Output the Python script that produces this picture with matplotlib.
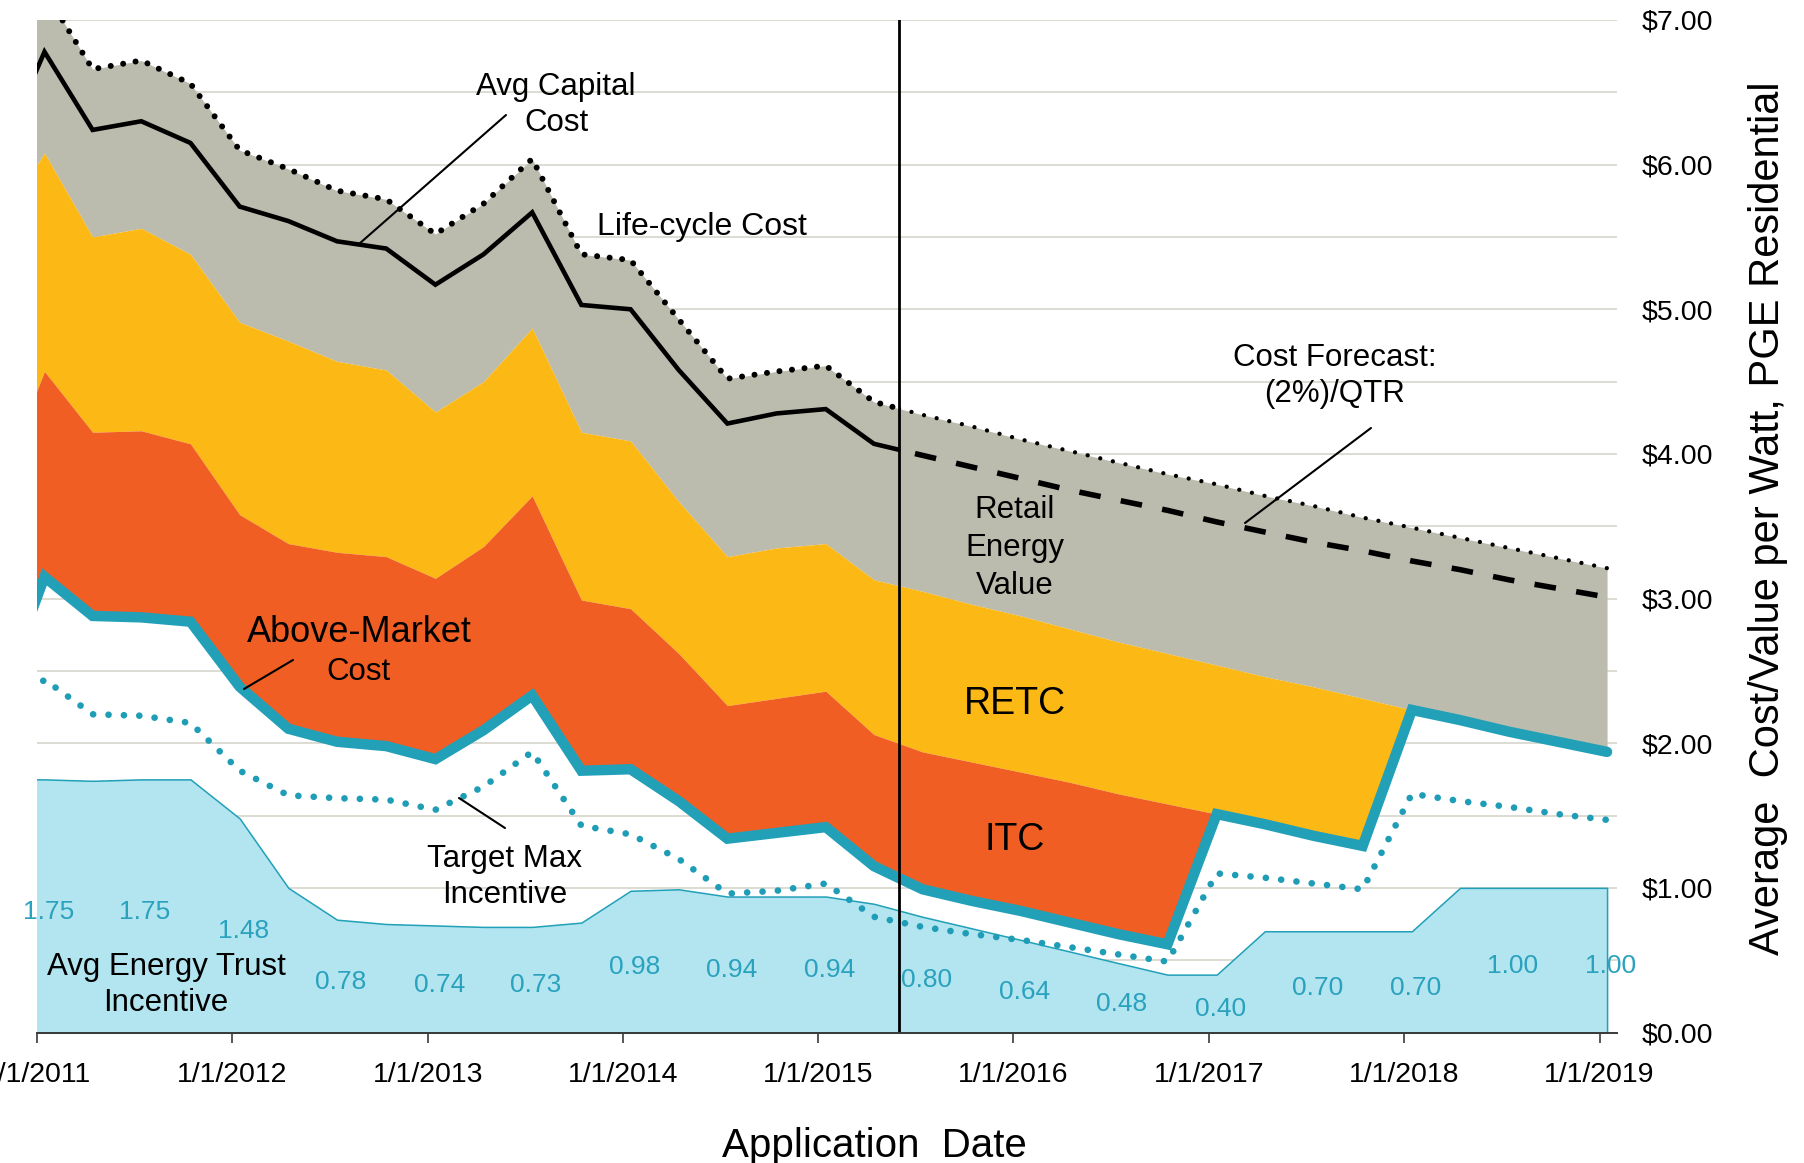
import numpy as np
import pandas as pd
import matplotlib
matplotlib.use("Agg")
import matplotlib.pyplot as plt
import matplotlib.dates as mdates
from matplotlib.patches import Rectangle
from datetime import datetime

plt.rcParams['font.family'] = ['Liberation Sans', 'DejaVu Sans']

# ---------------- data ----------------
# quarterly application dates (15th of Jan/Apr/Jul/Oct), Oct 2010 .. Jan 2019
dates = pd.date_range("2010-10-01", "2019-01-01", freq="QS") + pd.Timedelta(days=14)

life_cycle_cost = [6.45, 7.20, 6.66, 6.72, 6.56, 6.10, 5.97, 5.82, 5.76, 5.52, 5.73,
                   6.04, 5.38, 5.34, 4.93, 4.52, 4.57, 4.61, 4.36, 4.27, 4.19, 4.10,
                   4.02, 3.94, 3.86, 3.79, 3.71, 3.64, 3.56, 3.49, 3.42, 3.35, 3.28, 3.21]
capital_actual = [5.99, 6.78, 6.24, 6.30, 6.15, 5.71, 5.61, 5.47, 5.42, 5.17, 5.38,
                  5.67, 5.03, 5.00, 4.58, 4.21, 4.28, 4.31, 4.07]
capital_forecast = [4.07, 3.99, 3.91, 3.83, 3.75, 3.68, 3.61, 3.53, 3.46, 3.39, 3.33,
                    3.26, 3.20, 3.13, 3.07, 3.01]
retc_top = [5.55, 6.08, 5.50, 5.56, 5.38, 4.91, 4.78, 4.64, 4.58, 4.29, 4.50,
            4.87, 4.15, 4.09, 3.67, 3.29, 3.35, 3.38, 3.13, 3.05, 2.96, 2.88,
            2.79, 2.70, 2.62, 2.54, 2.46, 2.39, 2.31, 2.23, 2.16, 2.08, 2.01, 1.94]
itc_top = [3.72, 4.57, 4.15, 4.16, 4.07, 3.58, 3.38, 3.32, 3.29, 3.14, 3.36,
           3.71, 2.99, 2.93, 2.62, 2.26, 2.31, 2.36, 2.06, 1.94, 1.87, 1.80,
           1.73, 1.65, 1.58, 1.51, 1.44, 1.36, 1.29, 2.23, 2.16, 2.08, 2.01, 1.94]
above_market = [2.23, 3.15, 2.88, 2.87, 2.84, 2.39, 2.10, 2.01, 1.98, 1.89, 2.09,
                2.33, 1.81, 1.82, 1.60, 1.34, 1.38, 1.42, 1.15, 0.99, 0.91, 0.84,
                0.76, 0.68, 0.61, 1.51, 1.44, 1.36, 1.29, 2.23, 2.16, 2.08, 2.01, 1.94]
target_max = [2.11, 2.44, 2.20, 2.19, 2.14, 1.81, 1.64, 1.62, 1.61, 1.54, 1.70,
              1.94, 1.43, 1.37, 1.20, 0.96, 0.98, 1.03, 0.80, 0.73, 0.68, 0.64,
              0.59, 0.54, 0.49, 1.10, 1.07, 1.03, 0.99, 1.65, 1.60, 1.56, 1.51, 1.47]
ets_incentive = [1.75, 1.75, 1.74, 1.75, 1.75, 1.48, 1.00, 0.78, 0.75, 0.74, 0.73,
                 0.73, 0.76, 0.98, 0.99, 0.94, 0.94, 0.94, 0.89, 0.80, 0.72, 0.64,
                 0.56, 0.48, 0.40, 0.40, 0.70, 0.70, 0.70, 0.70, 1.00, 1.00, 1.00, 1.00]

forecast_start = datetime(2015, 5, 31)
x_start, x_end = datetime(2011, 1, 1), datetime(2019, 2, 2)
year_ticks = [datetime(y, 1, 1) for y in range(2011, 2020)]
year_tick_labels = ["1/1/2011", "1/1/2012", "1/1/2013", "1/1/2014", "1/1/2015",
                    "1/1/2016", "1/1/2017", "1/1/2018", "1/1/2019"]
y_ticks = [0, 1, 2, 3, 4, 5, 6, 7]
y_tick_labels = ["$0.00", "$1.00", "$2.00", "$3.00", "$4.00", "$5.00", "$6.00", "$7.00"]

# ---------------- styling ----------------
W, H = 1804, 1163
C_GRAY = '#bbbcad'
C_YELLOW = '#fcb814'
C_ORANGE = '#f15e24'
C_LIGHTBLUE = '#b2e5f0'
C_TEAL = '#21a0b8'
C_TEAL_DOT = '#1f9db7'
C_LABEL = '#2aa2be'

fig = plt.figure(figsize=(W / 100, H / 100), dpi=100)
ax = fig.add_axes([37 / W, 1 - 1032.5 / H, (1616.7 - 37) / W, (1032.5 - 20) / H])

capital_all = capital_actual + capital_forecast[1:]
n_act = len(capital_actual)

ax.fill_between(dates, retc_top, life_cycle_cost, color=C_GRAY, lw=0, zorder=1)
ax.fill_between(dates, itc_top, retc_top, color=C_YELLOW, lw=0, zorder=1)
ax.fill_between(dates, above_market, itc_top, color=C_ORANGE, lw=0, zorder=1)
ax.fill_between(dates, 0, ets_incentive, facecolor=C_LIGHTBLUE, edgecolor=C_TEAL,
                lw=1.1, zorder=2)

xv = mdates.date2num(forecast_start)
x0n = mdates.date2num(x_start)
x1n = mdates.date2num(x_end)

def clip_rect(left=True):
    if left:
        return Rectangle((x0n, 0), xv - x0n, 7, transform=ax.transData)
    return Rectangle((xv, 0), x1n - xv, 7, transform=ax.transData)

# target max incentive (dotted teal)
ax.plot(dates, target_max, color=C_TEAL_DOT, lw=4.8, linestyle=(0, (0.01, 2.3)),
        dash_capstyle='round', zorder=3)

# above-market cost (thick teal)
ax.plot(dates, above_market, color=C_TEAL, lw=7.5, solid_joinstyle='miter',
        solid_capstyle='round', zorder=4)

# capital cost: solid actual, dashed forecast
l1, = ax.plot(dates, capital_all, color='black', lw=3.3, solid_joinstyle='miter', zorder=4)
l1.set_clip_path(clip_rect(True))
l2, = ax.plot(dates[n_act - 1:], capital_forecast, color='black', lw=4.0,
              linestyle=(0, (3.9, 3.7)), dash_capstyle='butt', zorder=4)
l2.set_clip_path(clip_rect(False))

# life-cycle cost: dotted
l3, = ax.plot(dates[:n_act + 1], life_cycle_cost[:n_act + 1], color='black', lw=4.3,
              linestyle=(0, (0.01, 2.1)), dash_capstyle='round', zorder=4)
l3.set_clip_path(clip_rect(True))
l4, = ax.plot(dates[n_act - 1:], life_cycle_cost[n_act - 1:], color='black', lw=3.1,
              linestyle=(0, (0.01, 3.0)), dash_capstyle='round', zorder=4)
l4.set_clip_path(clip_rect(False))

ax.axvline(forecast_start, color='black', lw=2.0, zorder=5)

# data labels of Energy Trust incentive (every other quarter)
for d, v in zip(dates[1::2], ets_incentive[1::2]):
    ax.text(d + pd.Timedelta(days=7), v / 2 - 0.04, f"{v:.2f}", color=C_LABEL,
            fontsize=19, ha='center', va='center', zorder=6)

# axes formatting
ax.set_xlim(x_start, x_end)
ax.set_ylim(0, 7)
ax.set_xticks(year_ticks)
ax.set_xticklabels(year_tick_labels, fontsize=20.5)
ax.yaxis.tick_right()
ax.set_yticks(y_ticks)
ax.set_yticklabels(y_tick_labels, fontsize=20.5)
ax.set_yticks(np.arange(0.5, 7, 1.0), minor=True)
ax.tick_params(axis='y', which='both', length=0, pad=18)
ax.tick_params(axis='x', length=7, width=1.2, color='#3a3a3a', pad=14, direction='out')
ax.grid(axis='y', which='both', color='#d6d6cc', lw=1.2, zorder=0)
ax.set_axisbelow(True)
for s in ['top', 'left', 'right']:
    ax.spines[s].set_visible(False)
ax.spines['bottom'].set_color('#3a3a3a')
ax.spines['bottom'].set_linewidth(1.4)
ax.spines['bottom'].set_zorder(6)

# ---------------- annotations ----------------
def fxy(px, py):
    return (px / W, 1 - py / H)

def note(txt, px, py, size=22.5, spacing=1.28):
    fig.text(*fxy(px, py), txt, fontsize=size, ha='center', va='center',
             multialignment='center', linespacing=spacing)

def leader(p0, p1):
    ax.annotate('', xy=fxy(*p1), xytext=fxy(*p0), xycoords='figure fraction',
                textcoords='figure fraction',
                arrowprops=dict(arrowstyle='-', color='black', lw=1.5, shrinkA=0, shrinkB=0),
                zorder=7)

note("Avg Capital\nCost", 556, 105)
leader((506, 115), (359, 244))
note("Life-cycle Cost", 702, 227, size=23)
note("Cost Forecast:\n(2%)/QTR", 1335, 376)
leader((1371, 428), (1245, 523))
note("Retail\nEnergy\nValue", 1015, 548, spacing=1.35)
note("RETC", 1015, 704, size=27)
note("ITC", 1015, 840, size=27)
note("Above-Market", 359, 632, size=26)
note("Cost", 359, 672)
leader((293, 660), (244, 689))
note("Target Max\nIncentive", 505, 877)
leader((505, 828), (459, 798))
note("Avg Energy Trust\nIncentive", 166, 985)

fig.text(*fxy(874, 1157), "Application  Date", fontsize=29, ha='center', va='baseline')
fig.text(*fxy(1768, 518), "Average  Cost/Value per Watt, PGE Residential", fontsize=30,
         rotation=90, ha='center', va='center')

fig.savefig("out.png", dpi=100)
